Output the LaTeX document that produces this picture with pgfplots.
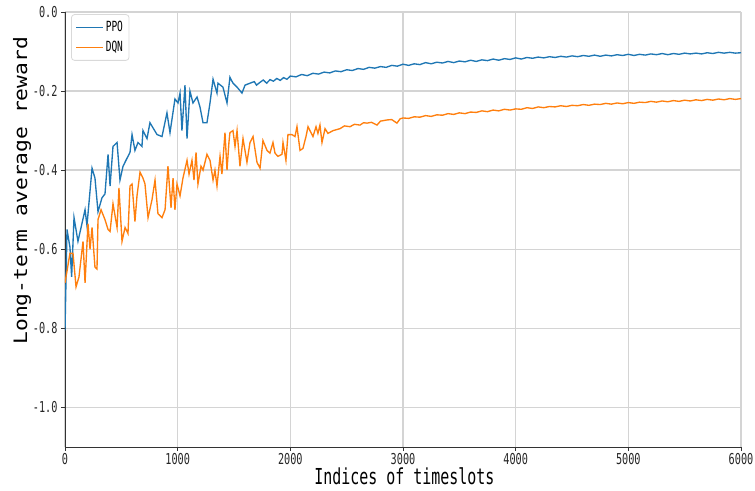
\documentclass[border=0pt]{standalone}
\usepackage{pgfplots}
\pgfplotsset{compat=1.18}
\usepackage{fontspec}
\setmainfont{DejaVu Sans Mono}
\newfontfamily\tickfont[FakeStretch=0.68]{DejaVu Sans Mono}
\newfontfamily\xlabfont[FakeStretch=0.68]{DejaVu Sans Mono}
\newfontfamily\ylabfont[FakeStretch=1.15]{DejaVu Sans Mono}
\definecolor{ppo}{HTML}{1F77B4}
\definecolor{dqn}{HTML}{FF7F0E}
\begin{document}
\begin{tikzpicture}
\path[use as bounding box] (-65pt,-43pt) rectangle (690pt,447pt);
\begin{axis}[
  at={(0pt,0pt)}, anchor=south west,
  width=676pt, height=435pt, scale only axis,
  xmin=0, xmax=6000, ymin=-1.1, ymax=0.0,
  xtick={0,1000,2000,3000,4000,5000,6000},
  ytick={-1.0,-0.8,-0.6,-0.4,-0.2,0.0},
  axis lines*=left,
  axis line style={black!80, line width=0.9pt},
  tick align=outside, major tick length=4pt,
  tick style={black!80, line width=0.8pt},
  grid=major,
  major grid style={color=black!17, line width=1.4pt},
  /pgf/number format/assume math mode=true,
  /pgf/number format/1000 sep={},
  yticklabel style={/pgf/number format/fixed, /pgf/number format/precision=1, /pgf/number format/fixed zerofill},
  ticklabel style={font=\tickfont\fontsize{15}{15}\selectfont, text=black!85},
  xticklabel style={yshift=1.5pt},
  xlabel={Indices of timeslots},
  ylabel={Long-term average reward},
  xlabel style={font=\xlabfont\fontsize{22}{22}\selectfont, at={(axis description cs:0.502,-0.068)}, anchor=center},
  ylabel style={font=\ylabfont\fontsize{18.5}{18.5}\selectfont, at={(axis description cs:-0.0636,0.589)}, anchor=center, rotate=0},
  legend style={at={(axis description cs:0.009,0.995)}, anchor=north west, draw=black!15, line width=0.8pt, rounded corners=3pt, fill=white, font=\tickfont\fontsize{14}{14}\selectfont, row sep=4pt, inner xsep=4pt, inner ysep=5pt},
  legend cell align=left,
  legend image code/.code={\draw[#1, line width=1.3pt] (0pt,0pt) -- (27pt,0pt);},
]
\addplot[ppo, line width=1.35pt] coordinates {
(0,-0.805) (18,-0.55) (44,-0.595) (59,-0.67) (80,-0.52) (115,-0.58) (178,-0.50) (195,-0.54)
(240,-0.395) (266,-0.42) (293,-0.505) (328,-0.47) (355,-0.46) (382,-0.36) (400,-0.44) (426,-0.34)
(462,-0.33) (488,-0.425) (515,-0.39) (550,-0.37) (577,-0.355) (595,-0.31) (621,-0.35) (648,-0.33)
(683,-0.34) (692,-0.30) (728,-0.32) (754,-0.28) (817,-0.31) (861,-0.315) (905,-0.255) (932,-0.305)
(976,-0.22) (1003,-0.23) (1021,-0.205) (1038,-0.30) (1065,-0.185) (1083,-0.32) (1109,-0.20) (1136,-0.23)
(1172,-0.215) (1198,-0.24) (1225,-0.28) (1260,-0.28) (1287,-0.23) (1314,-0.17) (1349,-0.205) (1358,-0.18)
(1402,-0.19) (1438,-0.23) (1464,-0.165) (1491,-0.18) (1527,-0.19) (1571,-0.205) (1598,-0.185) (1642,-0.18)
(1680,-0.176) (1700,-0.185) (1730,-0.178) (1760,-0.172) (1790,-0.180) (1820,-0.171) (1850,-0.175) (1880,-0.168)
(1910,-0.173) (1940,-0.166) (1970,-0.170) (2000,-0.162) (2050,-0.164) (2100,-0.158) (2150,-0.161) (2200,-0.155)
(2250,-0.157) (2300,-0.152) (2350,-0.154) (2400,-0.149) (2450,-0.151) (2500,-0.146) (2550,-0.148) (2600,-0.143)
(2650,-0.145) (2700,-0.140) (2750,-0.142) (2800,-0.138) (2850,-0.140) (2900,-0.135) (2950,-0.137) (3000,-0.132)
(3050,-0.135) (3100,-0.131) (3150,-0.133) (3200,-0.128) (3250,-0.131) (3300,-0.127) (3350,-0.129) (3400,-0.125)
(3450,-0.128) (3500,-0.124) (3550,-0.126) (3600,-0.122) (3650,-0.125) (3700,-0.121) (3750,-0.123) (3800,-0.119)
(3850,-0.122) (3900,-0.118) (3950,-0.120) (4000,-0.116) (4050,-0.119) (4100,-0.115) (4150,-0.117) (4200,-0.114)
(4250,-0.116) (4300,-0.113) (4350,-0.115) (4400,-0.112) (4450,-0.114) (4500,-0.111) (4550,-0.113) (4600,-0.110)
(4650,-0.112) (4700,-0.109) (4750,-0.112) (4800,-0.109) (4850,-0.111) (4900,-0.108) (4950,-0.110) (5000,-0.107)
(5050,-0.110) (5100,-0.107) (5150,-0.109) (5200,-0.106) (5250,-0.108) (5300,-0.105) (5350,-0.108) (5400,-0.105)
(5450,-0.107) (5500,-0.104) (5550,-0.106) (5600,-0.104) (5650,-0.106) (5700,-0.103) (5750,-0.105) (5800,-0.102)
(5850,-0.104) (5900,-0.102) (5950,-0.104) (6000,-0.103)
};
\addlegendentry{PPO}
\addplot[dqn, line width=1.35pt] coordinates {
(0,-0.685) (18,-0.655) (44,-0.61) (71,-0.61) (98,-0.695) (124,-0.67) (160,-0.58) (178,-0.685)
(204,-0.535) (222,-0.60) (240,-0.545) (266,-0.645) (284,-0.65) (293,-0.525) (320,-0.50) (355,-0.525)
(382,-0.55) (400,-0.555) (426,-0.485) (462,-0.545) (479,-0.445) (506,-0.58) (533,-0.545) (559,-0.56)
(577,-0.44) (595,-0.435) (621,-0.53) (639,-0.465) (666,-0.405) (692,-0.42) (710,-0.435) (737,-0.52)
(772,-0.475) (799,-0.425) (825,-0.51) (861,-0.52) (888,-0.50) (914,-0.39) (941,-0.495) (959,-0.42)
(976,-0.50) (994,-0.435) (1021,-0.465) (1047,-0.42) (1083,-0.375) (1101,-0.41) (1127,-0.375) (1145,-0.425)
(1163,-0.355) (1180,-0.435) (1207,-0.39) (1225,-0.40) (1260,-0.36) (1287,-0.375) (1314,-0.425) (1331,-0.40)
(1349,-0.44) (1376,-0.365) (1393,-0.41) (1420,-0.305) (1438,-0.40) (1455,-0.33) (1464,-0.305) (1491,-0.30)
(1509,-0.34) (1527,-0.30) (1553,-0.39) (1580,-0.32) (1615,-0.38) (1642,-0.33) (1669,-0.315) (1704,-0.38)
(1731,-0.395) (1757,-0.325) (1793,-0.35) (1819,-0.357) (1846,-0.33) (1864,-0.357) (1890,-0.365) (1926,-0.36)
(1935,-0.33) (1961,-0.375) (1979,-0.31) (2015,-0.31) (2041,-0.315) (2059,-0.29) (2086,-0.35) (2112,-0.345)
(2139,-0.315) (2157,-0.29) (2174,-0.30) (2201,-0.315) (2228,-0.29) (2245,-0.307) (2263,-0.286) (2281,-0.33)
(2308,-0.295) (2334,-0.307) (2379,-0.30) (2441,-0.295) (2480,-0.288) (2529,-0.29) (2570,-0.284) (2618,-0.286)
(2650,-0.280) (2680,-0.281) (2720,-0.279) (2769,-0.286) (2800,-0.276) (2858,-0.273) (2900,-0.272) (2946,-0.281)
(2975,-0.270) (3000,-0.268) (3050,-0.269) (3100,-0.265) (3150,-0.266) (3200,-0.262) (3250,-0.264) (3300,-0.260)
(3350,-0.261) (3400,-0.257) (3450,-0.259) (3500,-0.255) (3550,-0.257) (3600,-0.253) (3650,-0.254) (3700,-0.250)
(3750,-0.252) (3800,-0.248) (3850,-0.250) (3900,-0.246) (3950,-0.248) (4000,-0.245) (4050,-0.246) (4100,-0.242)
(4150,-0.244) (4200,-0.240) (4250,-0.242) (4300,-0.239) (4350,-0.240) (4400,-0.237) (4450,-0.239) (4500,-0.236)
(4550,-0.237) (4600,-0.234) (4650,-0.236) (4700,-0.233) (4750,-0.234) (4800,-0.231) (4850,-0.233) (4900,-0.230)
(4950,-0.232) (5000,-0.229) (5050,-0.231) (5100,-0.228) (5150,-0.229) (5200,-0.226) (5250,-0.228) (5300,-0.225)
(5350,-0.227) (5400,-0.224) (5450,-0.226) (5500,-0.223) (5550,-0.225) (5600,-0.222) (5650,-0.224) (5700,-0.221)
(5750,-0.223) (5800,-0.220) (5850,-0.222) (5900,-0.219) (5950,-0.221) (6000,-0.219)
};
\addlegendentry{DQN}
\end{axis}
\end{tikzpicture}
\end{document}
